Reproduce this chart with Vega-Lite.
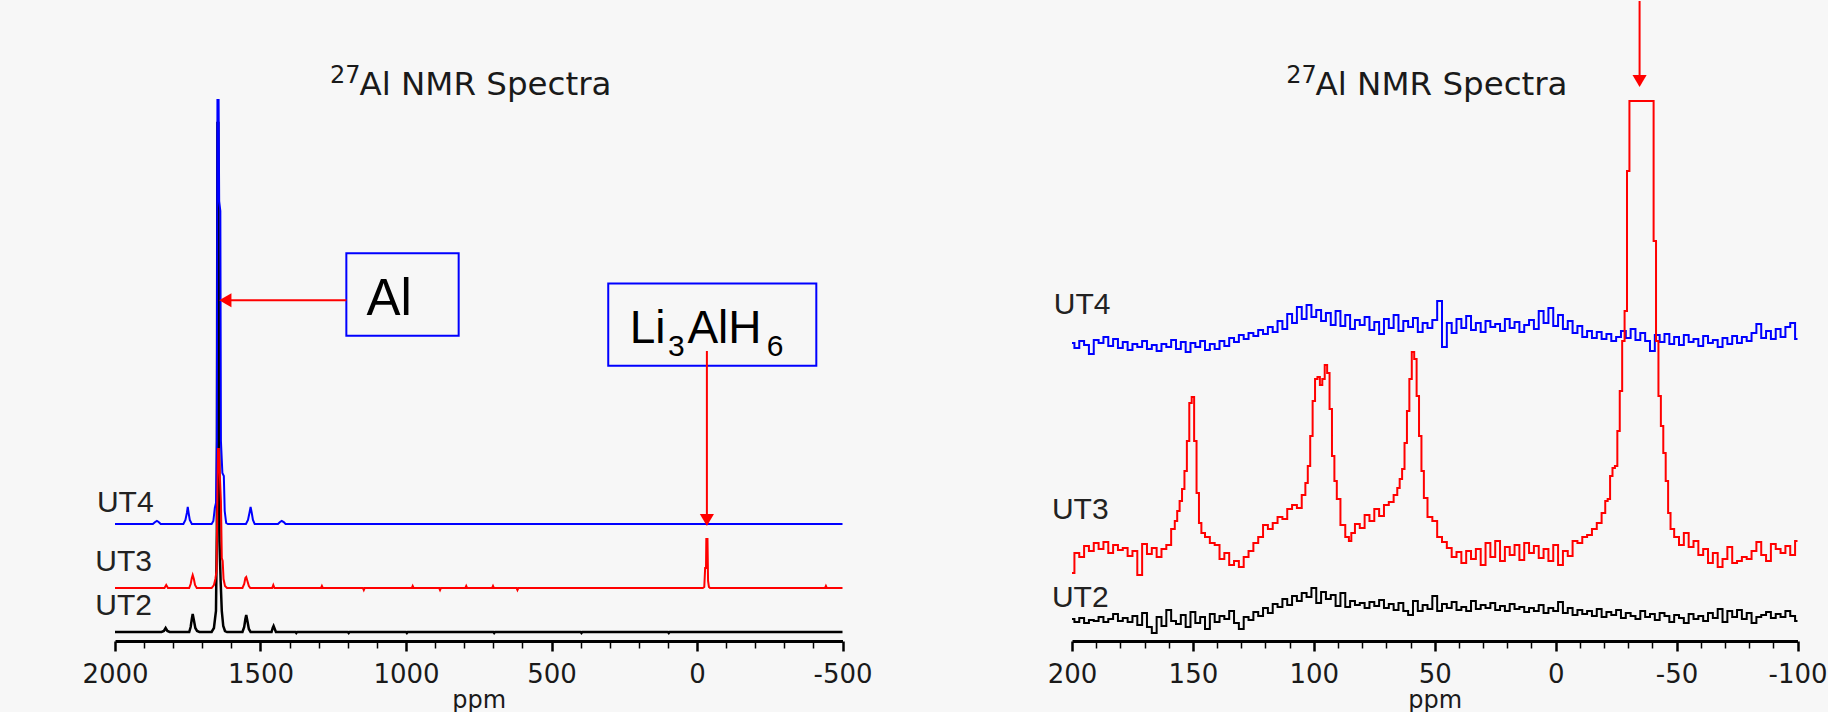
{
"$schema": "https://vega.github.io/schema/vega-lite/v6.json",
"background": "#f7f7f7",
"padding": {"left": 81, "top": 0, "right": 0, "bottom": 0},
"bounds": "flush",
"spacing": 229,
"config": {"view": {"stroke": null}},
"datasets": {
"left": [
{"s":"UT4","x":2000,"v":117},{"s":"UT4","x":1870,"v":117},{"s":"UT4","x":1862,"v":119},{"s":"UT4","x":1856,"v":120},{"s":"UT4","x":1850,"v":119},{"s":"UT4","x":1843,"v":117},{"s":"UT4","x":1765,"v":117},{"s":"UT4","x":1758,"v":121},{"s":"UT4","x":1753,"v":128},{"s":"UT4","x":1750,"v":134},{"s":"UT4","x":1747,"v":128},{"s":"UT4","x":1743,"v":121},{"s":"UT4","x":1736,"v":117},{"s":"UT4","x":1668,"v":117},{"s":"UT4","x":1662,"v":120},{"s":"UT4","x":1657,"v":133},{"s":"UT4","x":1653,"v":138},{"s":"UT4","x":1650,"v":200},{"s":"UT4","x":1648,"v":541},{"s":"UT4","x":1644,"v":541},{"s":"UT4","x":1642,"v":440},{"s":"UT4","x":1638,"v":430},{"s":"UT4","x":1636,"v":200},{"s":"UT4","x":1631,"v":168},{"s":"UT4","x":1626,"v":165},{"s":"UT4","x":1623,"v":130},{"s":"UT4","x":1618,"v":118},{"s":"UT4","x":1612,"v":117},{"s":"UT4","x":1550,"v":117},{"s":"UT4","x":1543,"v":121},{"s":"UT4","x":1538,"v":128},{"s":"UT4","x":1534,"v":134},{"s":"UT4","x":1530,"v":128},{"s":"UT4","x":1526,"v":121},{"s":"UT4","x":1520,"v":117},{"s":"UT4","x":1440,"v":117},{"s":"UT4","x":1433,"v":119},{"s":"UT4","x":1427,"v":120},{"s":"UT4","x":1420,"v":119},{"s":"UT4","x":1414,"v":117},{"s":"UT4","x":-500,"v":117},
{"s":"UT3","x":2000,"v":53},{"s":"UT3","x":1830,"v":53},{"s":"UT3","x":1824,"v":56},{"s":"UT3","x":1818,"v":53},{"s":"UT3","x":1745,"v":53},{"s":"UT3","x":1740,"v":57},{"s":"UT3","x":1736,"v":63},{"s":"UT3","x":1733,"v":66},{"s":"UT3","x":1729,"v":62},{"s":"UT3","x":1725,"v":56},{"s":"UT3","x":1719,"v":53},{"s":"UT3","x":1668,"v":53},{"s":"UT3","x":1660,"v":56},{"s":"UT3","x":1655,"v":62},{"s":"UT3","x":1651,"v":70},{"s":"UT3","x":1648,"v":150},{"s":"UT3","x":1646,"v":192},{"s":"UT3","x":1643,"v":192},{"s":"UT3","x":1640,"v":167},{"s":"UT3","x":1636,"v":140},{"s":"UT3","x":1633,"v":83},{"s":"UT3","x":1630,"v":80},{"s":"UT3","x":1627,"v":62},{"s":"UT3","x":1622,"v":55},{"s":"UT3","x":1615,"v":53},{"s":"UT3","x":1562,"v":53},{"s":"UT3","x":1556,"v":57},{"s":"UT3","x":1552,"v":63},{"s":"UT3","x":1549,"v":64},{"s":"UT3","x":1545,"v":60},{"s":"UT3","x":1540,"v":55},{"s":"UT3","x":1535,"v":53},{"s":"UT3","x":1460,"v":53},{"s":"UT3","x":1456,"v":56},{"s":"UT3","x":1452,"v":53},{"s":"UT3","x":1292,"v":53},{"s":"UT3","x":1289,"v":55},{"s":"UT3","x":1286,"v":53},{"s":"UT3","x":1148,"v":53},{"s":"UT3","x":1145,"v":51},{"s":"UT3","x":1142,"v":53},{"s":"UT3","x":980,"v":53},{"s":"UT3","x":977,"v":55},{"s":"UT3","x":974,"v":53},{"s":"UT3","x":886,"v":53},{"s":"UT3","x":883,"v":51},{"s":"UT3","x":880,"v":53},{"s":"UT3","x":796,"v":53},{"s":"UT3","x":793,"v":55},{"s":"UT3","x":790,"v":53},{"s":"UT3","x":704,"v":53},{"s":"UT3","x":701,"v":55},{"s":"UT3","x":698,"v":53},{"s":"UT3","x":620,"v":53},{"s":"UT3","x":617,"v":51},{"s":"UT3","x":614,"v":53},{"s":"UT3","x":-20,"v":53},{"s":"UT3","x":-25,"v":54},{"s":"UT3","x":-28,"v":73},{"s":"UT3","x":-31,"v":73},{"s":"UT3","x":-32,"v":102},{"s":"UT3","x":-36,"v":102},{"s":"UT3","x":-38,"v":60},{"s":"UT3","x":-41,"v":54},{"s":"UT3","x":-45,"v":53},{"s":"UT3","x":-440,"v":53},{"s":"UT3","x":-443,"v":55},{"s":"UT3","x":-446,"v":53},{"s":"UT3","x":-500,"v":53},
{"s":"UT2","x":2000,"v":9},{"s":"UT2","x":1840,"v":9},{"s":"UT2","x":1832,"v":10},{"s":"UT2","x":1826,"v":13},{"s":"UT2","x":1820,"v":10},{"s":"UT2","x":1812,"v":9},{"s":"UT2","x":1745,"v":9},{"s":"UT2","x":1740,"v":14},{"s":"UT2","x":1736,"v":22},{"s":"UT2","x":1733,"v":27},{"s":"UT2","x":1729,"v":21},{"s":"UT2","x":1724,"v":13},{"s":"UT2","x":1718,"v":10},{"s":"UT2","x":1710,"v":9},{"s":"UT2","x":1668,"v":9},{"s":"UT2","x":1660,"v":13},{"s":"UT2","x":1656,"v":23},{"s":"UT2","x":1653,"v":30},{"s":"UT2","x":1650,"v":110},{"s":"UT2","x":1648,"v":518},{"s":"UT2","x":1645,"v":518},{"s":"UT2","x":1643,"v":300},{"s":"UT2","x":1641,"v":100},{"s":"UT2","x":1637,"v":60},{"s":"UT2","x":1633,"v":30},{"s":"UT2","x":1628,"v":15},{"s":"UT2","x":1622,"v":10},{"s":"UT2","x":1615,"v":9},{"s":"UT2","x":1562,"v":9},{"s":"UT2","x":1556,"v":14},{"s":"UT2","x":1552,"v":22},{"s":"UT2","x":1549,"v":26},{"s":"UT2","x":1545,"v":20},{"s":"UT2","x":1540,"v":12},{"s":"UT2","x":1534,"v":9},{"s":"UT2","x":1462,"v":9},{"s":"UT2","x":1458,"v":13},{"s":"UT2","x":1455,"v":15},{"s":"UT2","x":1451,"v":12},{"s":"UT2","x":1447,"v":9},{"s":"UT2","x":1380,"v":9},{"s":"UT2","x":1377,"v":8},{"s":"UT2","x":1374,"v":9},{"s":"UT2","x":1200,"v":9},{"s":"UT2","x":1197,"v":8},{"s":"UT2","x":1194,"v":9},{"s":"UT2","x":1000,"v":9},{"s":"UT2","x":997,"v":8},{"s":"UT2","x":994,"v":9},{"s":"UT2","x":700,"v":9},{"s":"UT2","x":697,"v":8},{"s":"UT2","x":694,"v":9},{"s":"UT2","x":400,"v":9},{"s":"UT2","x":397,"v":8},{"s":"UT2","x":394,"v":9},{"s":"UT2","x":100,"v":9},{"s":"UT2","x":97,"v":8},{"s":"UT2","x":94,"v":9},{"s":"UT2","x":-500,"v":9}
],
"right": [
{"x":200,"UT4":298,"UT3":68,"UT2":22},{"x":198,"UT4":293,"UT3":88,"UT2":19},{"x":196,"UT4":300,"UT3":84,"UT2":23},{"x":194,"UT4":296,"UT3":95,"UT2":18},{"x":192,"UT4":287,"UT3":90,"UT2":21},{"x":190,"UT4":301,"UT3":98,"UT2":20},{"x":188,"UT4":298,"UT3":92,"UT2":24},{"x":186,"UT4":304,"UT3":99,"UT2":19},{"x":184,"UT4":295,"UT3":88,"UT2":22},{"x":182,"UT4":302,"UT3":96,"UT2":27},{"x":180,"UT4":293,"UT3":91,"UT2":20},{"x":178,"UT4":299,"UT3":93,"UT2":23},{"x":176,"UT4":291,"UT3":85,"UT2":19},{"x":174,"UT4":297,"UT3":90,"UT2":25},{"x":172,"UT4":294,"UT3":66,"UT2":16},{"x":170,"UT4":300,"UT3":97,"UT2":28},{"x":168,"UT4":292,"UT3":87,"UT2":14},{"x":166,"UT4":296,"UT3":93,"UT2":8},{"x":164,"UT4":290,"UT3":84,"UT2":24},{"x":162,"UT4":297,"UT3":92,"UT2":15},{"x":160,"UT4":294,"UT3":96,"UT2":31},{"x":158,"UT4":301,"UT3":112,"UT2":20},{"x":157,"UT3":120},{"x":156,"UT4":292,"UT3":130,"UT2":17},{"x":155,"UT3":140},{"x":154,"UT4":299,"UT3":152,"UT2":26},{"x":153,"UT3":170},{"x":152,"UT4":289,"UT3":200,"UT2":14},{"x":151,"UT3":238},{"x":150,"UT4":298,"UT3":244,"UT2":29},{"x":149,"UT3":200},{"x":148,"UT4":294,"UT3":148,"UT2":18},{"x":147,"UT3":118},{"x":146,"UT4":300,"UT3":108,"UT2":24},{"x":144,"UT4":291,"UT3":104,"UT2":12},{"x":142,"UT4":297,"UT3":98,"UT2":27},{"x":140,"UT4":292,"UT3":96,"UT2":19},{"x":138,"UT4":300,"UT3":82,"UT2":25},{"x":136,"UT4":295,"UT3":88,"UT2":22},{"x":134,"UT4":303,"UT3":76,"UT2":30},{"x":132,"UT4":299,"UT3":80,"UT2":18},{"x":130,"UT4":306,"UT3":74,"UT2":12},{"x":128,"UT4":302,"UT3":84,"UT2":24},{"x":126,"UT4":308,"UT3":90,"UT2":21},{"x":124,"UT4":305,"UT3":98,"UT2":29},{"x":122,"UT4":311,"UT3":104,"UT2":25},{"x":120,"UT4":307,"UT3":116,"UT2":33},{"x":118,"UT4":314,"UT3":112,"UT2":28},{"x":116,"UT4":309,"UT3":118,"UT2":37},{"x":114,"UT4":320,"UT3":124,"UT2":34},{"x":112,"UT4":312,"UT3":122,"UT2":42},{"x":110,"UT4":327,"UT3":132,"UT2":36},{"x":108,"UT4":318,"UT3":136,"UT2":45},{"x":106,"UT4":334,"UT3":133,"UT2":40},{"x":104,"UT4":322,"UT3":146,"UT2":48},{"x":103,"UT3":158},{"x":102,"UT4":336,"UT3":175,"UT2":44},{"x":101,"UT3":205},{"x":100,"UT4":324,"UT3":240,"UT2":53},{"x":99,"UT3":262},{"x":98,"UT4":331,"UT3":264,"UT2":38},{"x":97,"UT3":256},{"x":96,"UT4":320,"UT3":262,"UT2":49},{"x":95,"UT3":276},{"x":94,"UT4":328,"UT3":268,"UT2":42},{"x":93,"UT3":232},{"x":92,"UT4":316,"UT3":185,"UT2":46},{"x":91,"UT3":160},{"x":90,"UT4":330,"UT3":142,"UT2":35},{"x":88,"UT4":315,"UT3":116,"UT2":48},{"x":86,"UT4":326,"UT3":104,"UT2":34},{"x":85,"UT3":100},{"x":84,"UT4":312,"UT3":108,"UT2":40},{"x":82,"UT4":321,"UT3":117,"UT2":36},{"x":80,"UT4":316,"UT3":113,"UT2":38},{"x":78,"UT4":324,"UT3":126,"UT2":33},{"x":76,"UT4":311,"UT3":120,"UT2":39},{"x":74,"UT4":319,"UT3":132,"UT2":35},{"x":72,"UT4":307,"UT3":125,"UT2":41},{"x":70,"UT4":322,"UT3":136,"UT2":33},{"x":68,"UT4":313,"UT3":139,"UT2":37},{"x":66,"UT4":326,"UT3":146,"UT2":31},{"x":65,"UT3":153},{"x":64,"UT4":310,"UT3":162,"UT2":38},{"x":63,"UT3":172},{"x":62,"UT4":320,"UT3":198,"UT2":30},{"x":61,"UT3":230},{"x":60,"UT4":314,"UT3":262,"UT2":26},{"x":59,"UT3":289},{"x":58,"UT4":323,"UT3":282,"UT2":40},{"x":57,"UT3":245},{"x":56,"UT4":309,"UT3":205,"UT2":30},{"x":55,"UT3":170},{"x":54,"UT4":318,"UT3":143,"UT2":36},{"x":52,"UT4":313,"UT3":124,"UT2":32},{"x":50,"UT4":321,"UT3":120,"UT2":45},{"x":48,"UT4":340,"UT3":104,"UT2":30},{"x":46,"UT4":294,"UT3":99,"UT2":37},{"x":44,"UT4":318,"UT3":93,"UT2":33},{"x":42,"UT4":308,"UT3":84,"UT2":39},{"x":40,"UT4":322,"UT3":89,"UT2":31},{"x":38,"UT4":313,"UT3":78,"UT2":34},{"x":36,"UT4":325,"UT3":90,"UT2":30},{"x":34,"UT4":311,"UT3":82,"UT2":40},{"x":32,"UT4":318,"UT3":92,"UT2":32},{"x":30,"UT4":309,"UT3":76,"UT2":36},{"x":28,"UT4":320,"UT3":98,"UT2":33},{"x":26,"UT4":314,"UT3":84,"UT2":38},{"x":24,"UT4":317,"UT3":100,"UT2":31},{"x":22,"UT4":310,"UT3":80,"UT2":35},{"x":20,"UT4":322,"UT3":94,"UT2":30},{"x":18,"UT4":313,"UT3":86,"UT2":37},{"x":16,"UT4":319,"UT3":96,"UT2":32},{"x":14,"UT4":309,"UT3":81,"UT2":34},{"x":12,"UT4":316,"UT3":98,"UT2":29},{"x":10,"UT4":321,"UT3":88,"UT2":33},{"x":8,"UT4":312,"UT3":95,"UT2":30},{"x":6,"UT4":330,"UT3":83,"UT2":36},{"x":4,"UT4":318,"UT3":92,"UT2":28},{"x":2,"UT4":333,"UT3":80,"UT2":33},{"x":0,"UT4":315,"UT3":96,"UT2":30},{"x":-2,"UT4":326,"UT3":76,"UT2":39},{"x":-4,"UT4":312,"UT3":90,"UT2":28},{"x":-6,"UT4":320,"UT3":85,"UT2":33},{"x":-8,"UT4":308,"UT3":100,"UT2":26},{"x":-10,"UT4":315,"UT3":98,"UT2":31},{"x":-12,"UT4":304,"UT3":104,"UT2":27},{"x":-14,"UT4":310,"UT3":106,"UT2":30},{"x":-16,"UT4":303,"UT3":112,"UT2":25},{"x":-18,"UT4":309,"UT3":118,"UT2":32},{"x":-20,"UT4":302,"UT3":128,"UT2":24},{"x":-21,"UT3":140},{"x":-22,"UT4":307,"UT3":142,"UT2":29},{"x":-23,"UT3":165},{"x":-24,"UT4":300,"UT3":173,"UT2":26},{"x":-25,"UT3":175},{"x":-26,"UT4":304,"UT3":210,"UT2":31},{"x":-27,"UT3":250},{"x":-28,"UT4":310,"UT3":300,"UT2":23},{"x":-29,"UT3":330},{"x":-30,"UT4":303,"UT3":470,"UT2":28},{"x":-31,"UT3":540},{"x":-32,"UT4":312,"UT3":540,"UT2":25},{"x":-34,"UT4":301,"UT3":540,"UT2":22},{"x":-36,"UT4":308,"UT3":540,"UT2":30},{"x":-38,"UT4":300,"UT3":540,"UT2":24},{"x":-40,"UT4":290,"UT3":540,"UT2":27},{"x":-41,"UT3":400},{"x":-42,"UT4":306,"UT3":300,"UT2":21},{"x":-43,"UT3":245},{"x":-44,"UT4":299,"UT3":215,"UT2":28},{"x":-45,"UT3":188},{"x":-46,"UT4":307,"UT3":160,"UT2":25},{"x":-47,"UT3":128},{"x":-48,"UT4":297,"UT3":112,"UT2":19},{"x":-50,"UT4":304,"UT3":104,"UT2":26},{"x":-52,"UT4":296,"UT3":96,"UT2":23},{"x":-54,"UT4":306,"UT3":108,"UT2":18},{"x":-56,"UT4":299,"UT3":94,"UT2":27},{"x":-58,"UT4":302,"UT3":100,"UT2":22},{"x":-60,"UT4":295,"UT3":86,"UT2":25},{"x":-62,"UT4":305,"UT3":92,"UT2":20},{"x":-64,"UT4":298,"UT3":78,"UT2":28},{"x":-66,"UT4":301,"UT3":88,"UT2":23},{"x":-68,"UT4":294,"UT3":74,"UT2":32},{"x":-70,"UT4":303,"UT3":82,"UT2":19},{"x":-72,"UT4":297,"UT3":94,"UT2":30},{"x":-74,"UT4":305,"UT3":78,"UT2":24},{"x":-76,"UT4":298,"UT3":80,"UT2":31},{"x":-78,"UT4":304,"UT3":84,"UT2":22},{"x":-80,"UT4":300,"UT3":82,"UT2":28},{"x":-82,"UT4":308,"UT3":90,"UT2":18},{"x":-84,"UT4":317,"UT3":99,"UT2":24},{"x":-86,"UT4":303,"UT3":86,"UT2":26},{"x":-88,"UT4":310,"UT3":80,"UT2":29},{"x":-90,"UT4":302,"UT3":97,"UT2":23},{"x":-92,"UT4":312,"UT3":92,"UT2":27},{"x":-94,"UT4":304,"UT3":88,"UT2":24},{"x":-96,"UT4":314,"UT3":95,"UT2":30},{"x":-98,"UT4":318,"UT3":86,"UT2":25},{"x":-100,"UT4":302,"UT3":100,"UT2":20}
]
},
"hconcat": [
{
"width": 727.5, "height": 640,
"resolve": {"axis": {"x": "independent"}},
"layer": [
{"data": {"name": "left"}, "transform": [{"filter": "datum.s === 'UT2'"}],
 "mark": {"type": "line", "color": "#000000", "strokeWidth": 2.5},
 "encoding": {
  "x": {"field": "x", "type": "quantitative", "scale": {"domain": [-500, 2000], "reverse": true, "nice": false, "zero": false},
   "axis": {"orient": "bottom", "values": [2000,1500,1000,500,0,-500],
    "title": "ppm", "titleFont": "DejaVu Sans", "titleFontSize": 24, "titleFontWeight": "normal", "titleColor": "#1a1a1a", "titleY": 66, "titleBaseline": "alphabetic",
    "labelExpr": "'' + datum.value",
    "labelFont": "DejaVu Sans", "labelFontSize": 26, "labelColor": "#1a1a1a", "labelPadding": 10, "labelOverlap": false, "labelFlush": false,
    "domainColor": "#000000", "domainWidth": 3, "tickColor": "#000000", "tickSize": 10, "tickWidth": 2.5, "grid": false}},
  "y": {"field": "v", "type": "quantitative", "scale": {"domain": [0, 640], "nice": false, "zero": false}, "axis": null},
  "order": {"field": "x", "type": "quantitative", "sort": "descending"}
 }},
{"data": {"name": "left"}, "transform": [{"filter": "datum.s === 'UT4'"}],
 "mark": {"type": "line", "color": "#0000ff", "strokeWidth": 2},
 "encoding": {
  "x": {"field": "x", "type": "quantitative",
   "axis": {"orient": "bottom", "values": [1900,1800,1700,1600,1400,1300,1200,1100,900,800,700,600,400,300,200,100,-100,-200,-300,-400],
    "title": null, "labels": false, "domain": false, "tickColor": "#000000", "tickSize": 7, "tickWidth": 1.5, "grid": false}},
  "y": {"field": "v", "type": "quantitative", "axis": null},
  "order": {"field": "x", "type": "quantitative", "sort": "descending"}
 }},
{"data": {"name": "left"}, "transform": [{"filter": "datum.s === 'UT3'"}],
 "mark": {"type": "line", "color": "#ff0000", "strokeWidth": 2},
 "encoding": {
  "x": {"field": "x", "type": "quantitative", "axis": null},
  "y": {"field": "v", "type": "quantitative", "axis": null},
  "order": {"field": "x", "type": "quantitative", "sort": "descending"}
 }},
{"data": {"values": [{}]},
 "mark": {"type": "text", "font": "DejaVu Sans", "fontSize": 24, "align": "left", "baseline": "alphabetic", "color": "#1a1a1a"},
 "encoding": {"x": {"datum": 1261, "axis": null}, "y": {"datum": 558, "axis": null}, "text": {"value": "27"}}},
{"data": {"values": [{}]},
 "mark": {"type": "text", "font": "DejaVu Sans", "fontSize": 32.5, "align": "left", "baseline": "alphabetic", "color": "#1a1a1a"},
 "encoding": {"x": {"datum": 1160, "axis": null}, "y": {"datum": 545.7, "axis": null}, "text": {"value": "Al NMR Spectra"}}},
{"data": {"values": [{}]},
 "mark": {"type": "text", "font": "Liberation Sans", "fontSize": 30, "align": "left", "baseline": "alphabetic", "color": "#222222"},
 "encoding": {"x": {"datum": 2062, "axis": null}, "y": {"datum": 129.3, "axis": null}, "text": {"value": "UT4"}}},
{"data": {"values": [{}]},
 "mark": {"type": "text", "font": "Liberation Sans", "fontSize": 30, "align": "left", "baseline": "alphabetic", "color": "#222222"},
 "encoding": {"x": {"datum": 2068, "axis": null}, "y": {"datum": 70, "axis": null}, "text": {"value": "UT3"}}},
{"data": {"values": [{}]},
 "mark": {"type": "text", "font": "Liberation Sans", "fontSize": 30, "align": "left", "baseline": "alphabetic", "color": "#222222"},
 "encoding": {"x": {"datum": 2068, "axis": null}, "y": {"datum": 25.7, "axis": null}, "text": {"value": "UT2"}}},
{"data": {"values": [{}]},
 "mark": {"type": "rect", "fill": null, "fillOpacity": 0, "stroke": "#0000ff", "strokeWidth": 2},
 "encoding": {"x": {"datum": 1205, "axis": null}, "x2": {"datum": 819}, "y": {"datum": 387.7, "axis": null}, "y2": {"datum": 305.3}}},
{"data": {"values": [{}]},
 "mark": {"type": "text", "font": "Liberation Sans", "fontSize": 51, "align": "center", "baseline": "alphabetic", "color": "#000000"},
 "encoding": {"x": {"datum": 1058, "axis": null}, "y": {"datum": 326, "axis": null}, "text": {"value": "Al"}}},
{"data": {"values": [{}]},
 "mark": {"type": "rule", "color": "#ff0000", "strokeWidth": 2},
 "encoding": {"x": {"datum": 1205, "axis": null}, "x2": {"datum": 1621}, "y": {"datum": 340.7, "axis": null}}},
{"data": {"values": [{}]},
 "mark": {"type": "point", "shape": "triangle-left", "filled": true, "color": "#ff0000", "size": 200, "opacity": 1},
 "encoding": {"x": {"datum": 1621, "axis": null}, "y": {"datum": 340.7, "axis": null}}},
{"data": {"values": [{}]},
 "mark": {"type": "rect", "fill": null, "fillOpacity": 0, "stroke": "#0000ff", "strokeWidth": 2},
 "encoding": {"x": {"datum": 305, "axis": null}, "x2": {"datum": -410}, "y": {"datum": 357.5, "axis": null}, "y2": {"datum": 275.3}}},
{"data": {"values": [{}]},
 "mark": {"type": "text", "font": "Liberation Sans", "fontSize": 46, "align": "left", "baseline": "alphabetic", "color": "#000000"},
 "encoding": {"x": {"datum": 231, "axis": null}, "y": {"datum": 298.5, "axis": null}, "text": {"value": "Li"}}},
{"data": {"values": [{}]},
 "mark": {"type": "text", "font": "Liberation Sans", "fontSize": 30, "align": "left", "baseline": "alphabetic", "color": "#000000"},
 "encoding": {"x": {"datum": 100, "axis": null}, "y": {"datum": 285, "axis": null}, "text": {"value": "3"}}},
{"data": {"values": [{}]},
 "mark": {"type": "text", "font": "Liberation Sans", "fontSize": 46, "align": "left", "baseline": "alphabetic", "color": "#000000"},
 "encoding": {"x": {"datum": 33, "axis": null}, "y": {"datum": 298.5, "axis": null}, "text": {"value": "AlH"}}},
{"data": {"values": [{}]},
 "mark": {"type": "text", "font": "Liberation Sans", "fontSize": 30, "align": "left", "baseline": "alphabetic", "color": "#000000"},
 "encoding": {"x": {"datum": -240, "axis": null}, "y": {"datum": 285, "axis": null}, "text": {"value": "6"}}},
{"data": {"values": [{}]},
 "mark": {"type": "rule", "color": "#ff0000", "strokeWidth": 2},
 "encoding": {"x": {"datum": -34, "axis": null}, "y": {"datum": 290, "axis": null}, "y2": {"datum": 121}}},
{"data": {"values": [{}]},
 "mark": {"type": "point", "shape": "triangle-down", "filled": true, "color": "#ff0000", "size": 200, "opacity": 1},
 "encoding": {"x": {"datum": -34, "axis": null}, "y": {"datum": 121, "axis": null}}}
]
},
{
"width": 725.5, "height": 640,
"resolve": {"axis": {"x": "independent"}},
"layer": [
{"data": {"name": "right"}, "transform": [{"filter": "isValid(datum.UT2)"}],
 "mark": {"type": "line", "color": "#000000", "strokeWidth": 2, "interpolate": "step"},
 "encoding": {
  "x": {"field": "x", "type": "quantitative", "scale": {"domain": [-100, 200], "reverse": true, "nice": false, "zero": false},
   "axis": {"orient": "bottom", "values": [200,150,100,50,0,-50,-100],
    "title": "ppm", "titleFont": "DejaVu Sans", "titleFontSize": 24, "titleFontWeight": "normal", "titleColor": "#1a1a1a", "titleY": 66, "titleBaseline": "alphabetic",
    "labelExpr": "'' + datum.value",
    "labelFont": "DejaVu Sans", "labelFontSize": 26, "labelColor": "#1a1a1a", "labelPadding": 10, "labelOverlap": false, "labelFlush": false,
    "domainColor": "#000000", "domainWidth": 3, "tickColor": "#000000", "tickSize": 10, "tickWidth": 2.5, "grid": false}},
  "y": {"field": "UT2", "type": "quantitative", "scale": {"domain": [0, 640], "nice": false, "zero": false}, "axis": null},
  "order": {"field": "x", "type": "quantitative", "sort": "descending"}
 }},
{"data": {"name": "right"}, "transform": [{"filter": "isValid(datum.UT4)"}],
 "mark": {"type": "line", "color": "#0000ff", "strokeWidth": 2, "interpolate": "step"},
 "encoding": {
  "x": {"field": "x", "type": "quantitative",
   "axis": {"orient": "bottom", "values": [190,180,170,160,140,130,120,110,90,80,70,60,40,30,20,10,-10,-20,-30,-40,-60,-70,-80,-90],
    "title": null, "labels": false, "domain": false, "tickColor": "#000000", "tickSize": 7, "tickWidth": 1.5, "grid": false}},
  "y": {"field": "UT4", "type": "quantitative", "axis": null},
  "order": {"field": "x", "type": "quantitative", "sort": "descending"}
 }},
{"data": {"name": "right"}, "transform": [{"filter": "isValid(datum.UT3)"}],
 "mark": {"type": "line", "color": "#ff0000", "strokeWidth": 2, "interpolate": "step"},
 "encoding": {
  "x": {"field": "x", "type": "quantitative", "axis": null},
  "y": {"field": "UT3", "type": "quantitative", "axis": null},
  "order": {"field": "x", "type": "quantitative", "sort": "descending"}
 }},
{"data": {"values": [{}]},
 "mark": {"type": "text", "font": "DejaVu Sans", "fontSize": 24, "align": "left", "baseline": "alphabetic", "color": "#1a1a1a"},
 "encoding": {"x": {"datum": 111.4, "axis": null}, "y": {"datum": 558, "axis": null}, "text": {"value": "27"}}},
{"data": {"values": [{}]},
 "mark": {"type": "text", "font": "DejaVu Sans", "fontSize": 32.5, "align": "left", "baseline": "alphabetic", "color": "#1a1a1a"},
 "encoding": {"x": {"datum": 99.3, "axis": null}, "y": {"datum": 545.7, "axis": null}, "text": {"value": "Al NMR Spectra"}}},
{"data": {"values": [{}]},
 "mark": {"type": "text", "font": "Liberation Sans", "fontSize": 30, "align": "left", "baseline": "alphabetic", "color": "#222222"},
 "encoding": {"x": {"datum": 207.5, "axis": null}, "y": {"datum": 326.6, "axis": null}, "text": {"value": "UT4"}}},
{"data": {"values": [{}]},
 "mark": {"type": "text", "font": "Liberation Sans", "fontSize": 30, "align": "left", "baseline": "alphabetic", "color": "#222222"},
 "encoding": {"x": {"datum": 208.3, "axis": null}, "y": {"datum": 122.3, "axis": null}, "text": {"value": "UT3"}}},
{"data": {"values": [{}]},
 "mark": {"type": "text", "font": "Liberation Sans", "fontSize": 30, "align": "left", "baseline": "alphabetic", "color": "#222222"},
 "encoding": {"x": {"datum": 208.3, "axis": null}, "y": {"datum": 33.7, "axis": null}, "text": {"value": "UT2"}}},
{"data": {"values": [{}]},
 "mark": {"type": "rule", "color": "#ff0000", "strokeWidth": 2},
 "encoding": {"x": {"datum": -34.7, "axis": null}, "y": {"datum": 640, "axis": null}, "y2": {"datum": 560}}},
{"data": {"values": [{}]},
 "mark": {"type": "point", "shape": "triangle-down", "filled": true, "color": "#ff0000", "size": 200, "opacity": 1},
 "encoding": {"x": {"datum": -34.7, "axis": null}, "y": {"datum": 560, "axis": null}}}
]
}
]
}
